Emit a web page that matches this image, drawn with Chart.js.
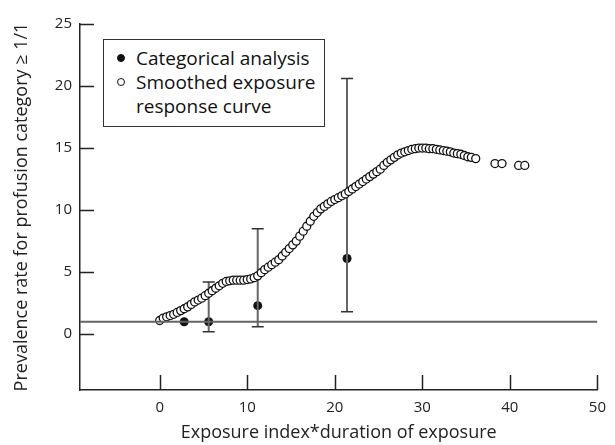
<!DOCTYPE html>
<html>
<head>
<meta charset="utf-8">
<script src="https://cdn.jsdelivr.net/npm/chart.js@4.4.1/dist/chart.umd.min.js"></script>
<style>
  body { margin: 0; background: #fff; }
  #wrap { position: relative; width: 615px; height: 445px; }
  #legend {
    position: absolute; left: 103px; top: 39px; width: 220px; height: 86px;
    border: 1px solid #333; background: #fff;
    font-family: "Open Sans", sans-serif; font-size: 19px; color: #111; line-height: 24px;
  }
  #legend .row { position: relative; padding-left: 32px; }
  #legend .dot { position: absolute; left: 13px; top: 8px; width: 8px; height: 8px; border-radius: 50%; box-sizing: border-box; border: 1px solid #111; }
</style>
</head>
<body>
<div id="wrap">
  <canvas id="chart1" width="615" height="445"></canvas>
  <div id="legend">
    <div class="row" style="margin-top:6px"><span class="dot" style="background:#111"></span>Categorical analysis</div>
    <div class="row"><span class="dot" style="background:#fff"></span>Smoothed exposure<br>response curve</div>
  </div>
</div>
<script>
// smoothed exposure response curve
var curveX = [0.0, 0.4, 0.8, 1.2, 1.6, 2.0, 2.4, 2.8, 3.2, 3.6, 4.0, 4.4, 4.8, 5.2, 5.6, 6.0, 6.4, 6.8, 7.2, 7.6,
  8.0, 8.4, 8.8, 9.2, 9.6, 10.0, 10.4, 10.8, 11.2, 11.6, 12.0, 12.4, 12.8, 13.2, 13.6, 14.0, 14.4, 14.8, 15.2, 15.6,
  16.0, 16.4, 16.8, 17.2, 17.6, 18.0, 18.4, 18.8, 19.2, 19.6, 20.0, 20.4, 20.8, 21.2, 21.6, 22.0, 22.4, 22.8, 23.2, 23.6,
  24.0, 24.4, 24.8, 25.2, 25.6, 26.0, 26.4, 26.8, 27.2, 27.6, 28.0, 28.4, 28.8, 29.2, 29.6, 30.0, 30.4, 30.8, 31.2, 31.6,
  32.0, 32.4, 32.8, 33.2, 33.6, 34.0, 34.4, 34.8, 35.2, 35.6, 36.1, 38.3, 39.1, 41.0, 41.7];
var curveY = [1.1, 1.3, 1.4, 1.5, 1.6, 1.75, 1.9, 2.05, 2.2, 2.4, 2.6, 2.75, 2.9, 3.1, 3.3, 3.5, 3.7, 3.9, 4.1, 4.25,
  4.3, 4.35, 4.35, 4.35, 4.35, 4.4, 4.45, 4.55, 4.7, 4.95, 5.2, 5.4, 5.6, 5.8, 6.0, 6.3, 6.6, 6.9, 7.2, 7.5,
  7.9, 8.3, 8.7, 9.1, 9.5, 9.8, 10.1, 10.3, 10.5, 10.7, 10.85, 11.0, 11.15, 11.3, 11.5, 11.7, 11.9, 12.1, 12.3, 12.5,
  12.7, 12.9, 13.1, 13.3, 13.6, 13.85, 14.05, 14.25, 14.45, 14.6, 14.7, 14.8, 14.9, 14.95, 15.0, 15.0, 15.0, 14.95, 14.95, 14.9,
  14.85, 14.8, 14.75, 14.7, 14.6, 14.55, 14.5, 14.4, 14.3, 14.25, 14.15, 13.75, 13.75, 13.6, 13.6];

// categorical analysis with confidence limits
var catX = [2.8, 5.6, 11.2, 21.4];
var catY = [1.0, 1.0, 2.3, 6.1];
var catLow = [null, 0.2, 0.6, 1.8];
var catHigh = [null, 4.2, 8.5, 20.6];

var refY = 1;
var xTicks = [0, 10, 20, 30, 40, 50];
var yTicks = [0, 5, 10, 15, 20, 25];
var xMin = -9.1, xMax = 50, yMin = -4.5, yMax = 25;

var curvePts = curveX.map(function (x, i) { return { x: x, y: curveY[i] }; });
var catPts = catX.map(function (x, i) { return { x: x, y: catY[i] }; });
var errPts = [];
catX.forEach(function (x, i) {
    if (catLow[i] === null) return;
    errPts.push({ x: x, y: catLow[i] }, { x: x, y: catHigh[i] }, { x: x, y: null });
});

var FONT = '"Open Sans", sans-serif';

var innerTicks = {
    id: 'innerTicks',
    afterDatasetsDraw: function (chart) {
        var ctx = chart.ctx, a = chart.chartArea;
        var xs = chart.scales.x, ys = chart.scales.y;
        ctx.save();
        ctx.strokeStyle = '#222';
        ctx.lineWidth = 1.5;
        ctx.beginPath();
        yTicks.forEach(function (v) {
            var p = Math.round(ys.getPixelForValue(v)) + 0.5;
            ctx.moveTo(a.left, p); ctx.lineTo(a.left + 14, p);
        });
        xTicks.forEach(function (v) {
            var p = Math.round(xs.getPixelForValue(v)) + 0.5;
            ctx.moveTo(p, a.bottom); ctx.lineTo(p, a.bottom - 15);
        });
        ctx.stroke();
        ctx.restore();
    }
};

var chart1 = document.getElementById('chart1').getContext('2d');
var myChart1 = new Chart(chart1, {
    type: 'scatter',
    data: {
        datasets: [{
            label: 'ref',
            data: [{ x: xMin, y: refY }, { x: xMax, y: refY }],
            showLine: true,
            borderColor: '#666',
            borderWidth: 2,
            pointRadius: 0
        }, {
            label: 'Smoothed exposure response curve',
            data: curvePts,
            pointRadius: 4,
            pointBorderWidth: 1.3,
            pointBorderColor: '#111',
            pointBackgroundColor: '#fff'
        }, {
            label: 'errors',
            data: errPts,
            showLine: true,
            spanGaps: false,
            borderColor: '#666',
            borderWidth: 2,
            pointStyle: 'line',
            pointRadius: 6,
            pointBorderWidth: 1.5,
            pointBorderColor: '#333'
        }, {
            label: 'Categorical analysis',
            data: catPts,
            pointRadius: 4.5,
            pointBorderWidth: 0,
            pointBackgroundColor: '#111'
        }]
    },
    options: {
        responsive: false,
        animation: false,
        layout: { padding: { top: 24, right: 12, left: 0, bottom: 0 } },
        plugins: {
            legend: { display: false },
            tooltip: { enabled: false }
        },
        scales: {
            x: {
                type: 'linear',
                min: xMin,
                max: xMax,
                afterBuildTicks: function (s) { s.ticks = xTicks.map(function (v) { return { value: v }; }); },
                afterFit: function (s) { s.height = 55; },
                grid: { display: true, drawOnChartArea: false, drawTicks: false },
                border: { color: '#222', width: 1.5 },
                ticks: { padding: 9, color: '#222', font: { family: FONT, size: 15 }, maxRotation: 0 },
                title: {
                    display: true,
                    text: 'Exposure index*duration of exposure',
                    color: '#222',
                    font: { family: FONT, size: 18 },
                    padding: { top: 0, bottom: 1 }
                }
            },
            y: {
                type: 'linear',
                min: yMin,
                max: yMax,
                afterBuildTicks: function (s) { s.ticks = yTicks.map(function (v) { return { value: v }; }); },
                afterFit: function (s) { s.width = 80; },
                grid: { display: true, drawOnChartArea: false, drawTicks: false },
                border: { color: '#222', width: 1.5 },
                ticks: { padding: 8, color: '#222', font: { family: FONT, size: 15 } },
                title: {
                    display: true,
                    text: 'Prevalence rate for profusion category \u2265 1/1',
                    color: '#222',
                    font: { family: FONT, size: 18 },
                    padding: { top: 11, bottom: 0 }
                }
            }
        }
    },
    plugins: [innerTicks]
});
</script>
</body>
</html>
